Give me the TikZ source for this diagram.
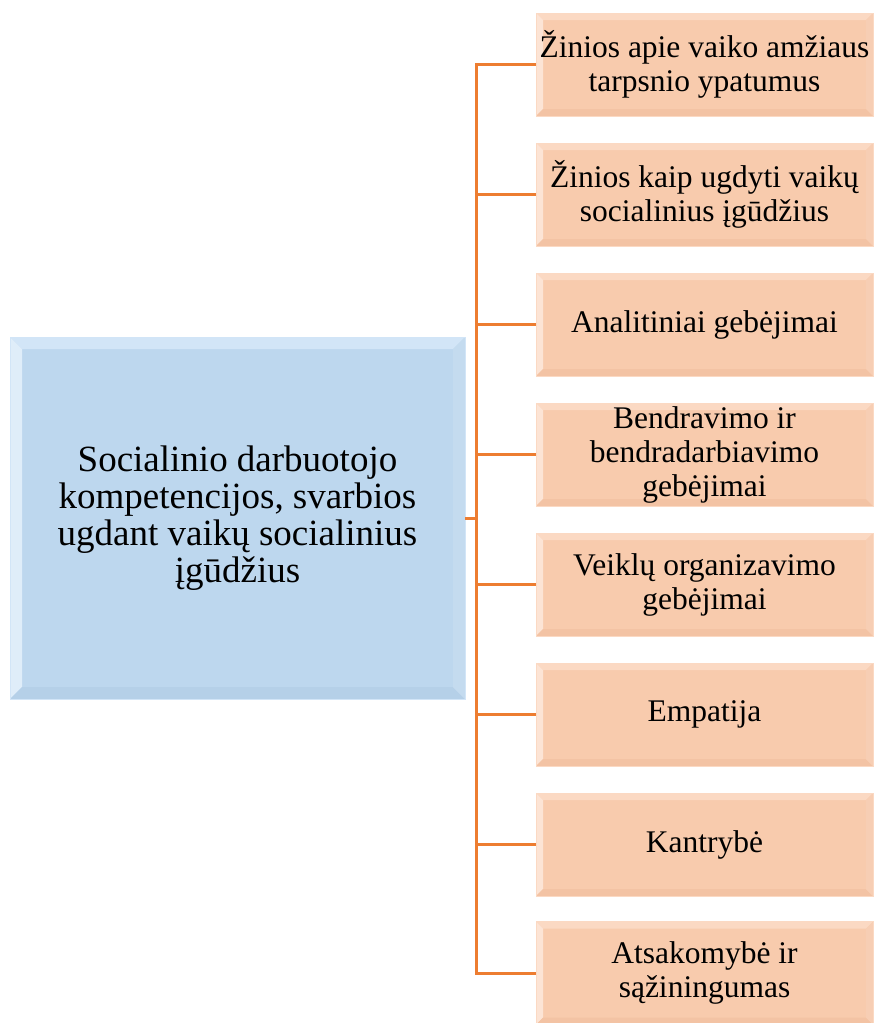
\documentclass[tikz,border=0pt]{standalone}
\usepackage{fontspec}
\setmainfont{Liberation Serif}
\usetikzlibrary{positioning,calc}

\definecolor{compblue}{HTML}{BDD7EE}
\definecolor{compblueL}{HTML}{D2E5F7}
\definecolor{compblueD}{HTML}{B5D0E8}
\definecolor{itemorange}{HTML}{F8CBAD}
\definecolor{itemorangeL}{HTML}{FBD9C3}
\definecolor{itemorangeD}{HTML}{F3C3A4}
\definecolor{linkorange}{HTML}{ED7D31}

\begin{document}
\begin{tikzpicture}[
    x=1pt, y=-1pt,
    bevel/.style n args={3}{path picture={
      \fill[#2] (path picture bounding box.north west)
        -- (path picture bounding box.north east)
        -- ([shift={(-#1,-#1)}]path picture bounding box.north east)
        -- ([shift={(#1,-#1)}]path picture bounding box.north west) -- cycle;
      \fill[#2!70!white] (path picture bounding box.north west)
        -- (path picture bounding box.south west)
        -- ([shift={(#1,#1)}]path picture bounding box.south west)
        -- ([shift={(#1,-#1)}]path picture bounding box.north west) -- cycle;
      \fill[#3] (path picture bounding box.south west)
        -- (path picture bounding box.south east)
        -- ([shift={(-#1,#1)}]path picture bounding box.south east)
        -- ([shift={(#1,#1)}]path picture bounding box.south west) -- cycle;
      \fill[#2!50!#3] (path picture bounding box.north east)
        -- (path picture bounding box.south east)
        -- ([shift={(-#1,#1)}]path picture bounding box.south east)
        -- ([shift={(-#1,-#1)}]path picture bounding box.north east) -- cycle;
    }},
    compbox/.style={fill=compblue, draw=compblueL, line width=1pt,
                    inner sep=0pt, outer sep=0pt,
                    minimum width=455pt, minimum height=362pt,
                    align=center, font=\fontsize{37}{37}\selectfont,
                    bevel={12pt}{compblueL}{compblueD}},
    itembox/.style={fill=itemorange, draw=itemorangeL, line width=1pt,
                    inner sep=0pt, outer sep=0pt,
                    minimum width=337pt, minimum height=103pt,
                    align=center, font=\fontsize{31.5}{34}\selectfont,
                    bevel={7pt}{itemorangeL}{itemorangeD}},
    link/.style={draw=linkorange, line width=3pt},
  ]
  \useasboundingbox (0,0) rectangle (874,1023);

  % central box
  \node[compbox] at (237.5, 518) (comp)
    {Socialinio darbuotojo\\kompetencijos, svarbios\\ugdant vaikų socialinius\\įgūdžius};

  % competencies, top to bottom
  \node[itembox] at (704.5, 64.5) (know1)
    {Žinios apie vaiko amžiaus\\tarpsnio ypatumus};
  \node[itembox] at (704.5, 194.5) (know2)
    {Žinios kaip ugdyti vaikų\\socialinius įgūdžius};
  \node[itembox] at (704.5, 324.5) (analytic) {Analitiniai gebėjimai};
  \node[itembox] at (704.5, 454.5) (communic)
    {Bendravimo ir\\bendradarbiavimo\\gebėjimai};
  \node[itembox] at (704.5, 584.5) (organize)
    {Veiklų organizavimo\\gebėjimai};
  \node[itembox] at (704.5, 714.5) (empathy) {Empatija};
  \node[itembox] at (704.5, 844.5) (patience) {Kantrybė};
  \node[itembox] at (704.5, 973) (duty)
    {Atsakomybė ir\\sąžiningumas};

  % connectors
  \draw[link] (comp.east) -- ++(11,0) coordinate (spine);
  \draw[link] (know1.west) -| (spine);
  \draw[link] (know2.west) -| (spine);
  \draw[link] (analytic.west) -| (spine);
  \draw[link] (communic.west) -| (spine);
  \draw[link] (organize.west) -| (spine);
  \draw[link] (empathy.west) -| (spine);
  \draw[link] (patience.west) -| (spine);
  \draw[link] (duty.west) -| (spine);

\end{tikzpicture}
\end{document}
